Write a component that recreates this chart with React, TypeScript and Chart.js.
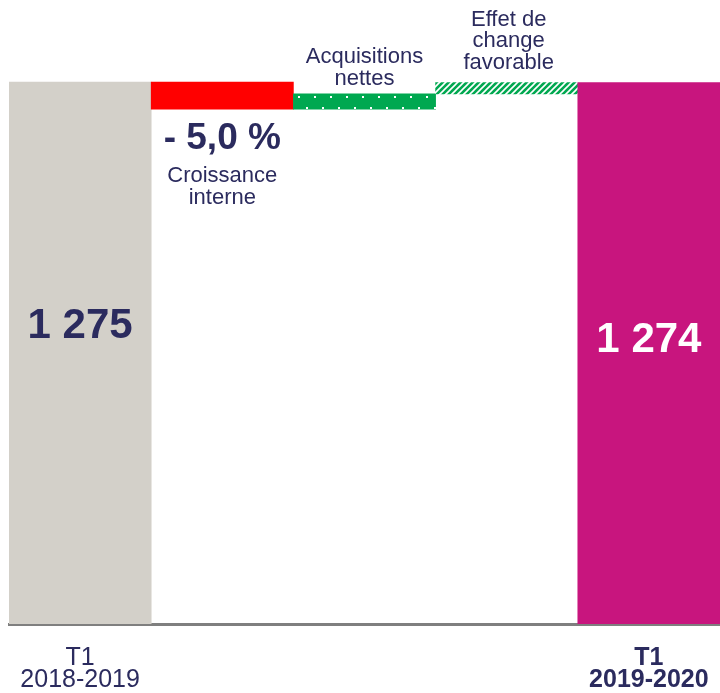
import React, { useEffect, useRef } from 'react';
import { Chart, registerables } from 'chart.js';

Chart.register(...registerables);

// ---- data ----
const categories: string[][] = [['T1', '2018-2019'], [''], [''], [''], ['T1', '2019-2020']];
const barStart = [0, 1211, 1211, 1247, 0];
const barEnd = [1275, 1275, 1247, 1274, 1274];
const valueLabels = ['1 275', '', '', '', '1 274'];
const growthLabel = '- 5,0 %';
const stepLabels: string[][] = [[], ['Croissance', 'interne'], ['Acquisitions', 'nettes'], ['Effet de', 'change', 'favorable'], []];

const NAVY = '#2B2B5E';
const GREEN = '#00A850';
const FONT = "'Liberation Sans', Arial, sans-serif";

function makeDotPattern(ctx: CanvasRenderingContext2D) {
  const c = document.createElement('canvas');
  c.width = 16;
  c.height = 22;
  const g = c.getContext('2d')!;
  g.fillStyle = GREEN;
  g.fillRect(0, 0, 16, 22);
  g.fillStyle = '#ffffff';
  g.fillRect(10, 8, 2, 2);
  g.fillRect(2, 19, 2, 2);
  return ctx.createPattern(c, 'repeat')!;
}

function makeHatchPattern(ctx: CanvasRenderingContext2D) {
  const c = document.createElement('canvas');
  c.width = 6;
  c.height = 6;
  const g = c.getContext('2d')!;
  g.fillStyle = GREEN;
  g.fillRect(0, 0, 6, 6);
  g.strokeStyle = '#ffffff';
  g.lineWidth = 1.6;
  g.beginPath();
  g.moveTo(-1, 7); g.lineTo(7, -1);
  g.moveTo(-4, 4); g.lineTo(4, -4);
  g.moveTo(2, 10); g.lineTo(10, 2);
  g.stroke();
  return ctx.createPattern(c, 'repeat')!;
}

const annotationPlugin = {
  id: 'annotations',
  afterDatasetsDraw(chart: any) {
    const ctx: CanvasRenderingContext2D = chart.ctx;
    const x = chart.scales.x;
    const y = chart.scales.y;
    ctx.save();
    ctx.textAlign = 'center';
    ctx.textBaseline = 'middle';
    // totals
    ctx.font = `bold 42px ${FONT}`;
    ctx.fillStyle = NAVY;
    ctx.fillText(valueLabels[0], x.getPixelForValue(0), y.getPixelForValue(barEnd[0]) + 244);
    ctx.fillStyle = '#ffffff';
    ctx.fillText(valueLabels[4], x.getPixelForValue(4), y.getPixelForValue(barEnd[4]) + 258);
    // growth
    ctx.fillStyle = NAVY;
    const redBottom = y.getPixelForValue(barStart[1]);
    ctx.font = `bold 37px ${FONT}`;
    ctx.fillText(growthLabel, x.getPixelForValue(1), redBottom + 30);
    ctx.font = `22px ${FONT}`;
    stepLabels[1].forEach((t, k) => ctx.fillText(t, x.getPixelForValue(1), redBottom + 67 + k * 22));
    // acquisitions
    const acqTop = y.getPixelForValue(barEnd[2]);
    const acq = stepLabels[2];
    acq.forEach((t, k) => ctx.fillText(t, x.getPixelForValue(2), acqTop - 15 - (acq.length - 1 - k) * 22));
    // fx
    const fxTop = y.getPixelForValue(barEnd[3]);
    const fx = stepLabels[3];
    fx.forEach((t, k) => ctx.fillText(t, x.getPixelForValue(3) + 2, fxTop - 20 - (fx.length - 1 - k) * 21.5));
    ctx.restore();
  },
};

export default function App() {
  const ref = useRef<HTMLCanvasElement | null>(null);
  useEffect(() => {
    const canvas = ref.current!;
    const ctx = canvas.getContext('2d')!;
    const colors: any[] = ['#D3D0C9', '#FF0000', makeDotPattern(ctx), makeHatchPattern(ctx), '#C8157E'];
    const chart = new Chart(canvas, {
      type: 'bar',
      data: {
        labels: categories,
        datasets: [
          {
            data: barStart.map((s, i) => [s, barEnd[i]]) as any,
            backgroundColor: colors,
            borderWidth: 0,
            barPercentage: 1,
            categoryPercentage: 1,
          },
        ],
      },
      options: {
        animation: false,
        responsive: true,
        maintainAspectRatio: false,
        layout: { padding: { left: 9, right: 0, top: 0, bottom: 0 } },
        plugins: { legend: { display: false }, tooltip: { enabled: false } },
        scales: {
          x: {
            grid: { display: false, drawTicks: false },
            border: { display: true, color: '#7F7F7F', width: 3 },
            afterFit: (s: any) => {
              s.height = 69;
              s.paddingLeft = 0;
              s.paddingRight = 0;
            },
            ticks: {
              padding: 23,
              color: NAVY,
              autoSkip: false,
              maxRotation: 0,
              font: (c: any) => ({ family: FONT, size: 25, weight: c.index === 4 ? 'bold' : 'normal', lineHeight: 0.88 }),
            },
          },
          y: { display: false, min: 0, max: 1468 },
        },
      },
      plugins: [annotationPlugin],
    });
    return () => chart.destroy();
  }, []);
  return (
    <div style={{ position: 'absolute', left: 0, top: 0, width: 720, height: 693 }}>
      <canvas ref={ref} />
    </div>
  );
}
